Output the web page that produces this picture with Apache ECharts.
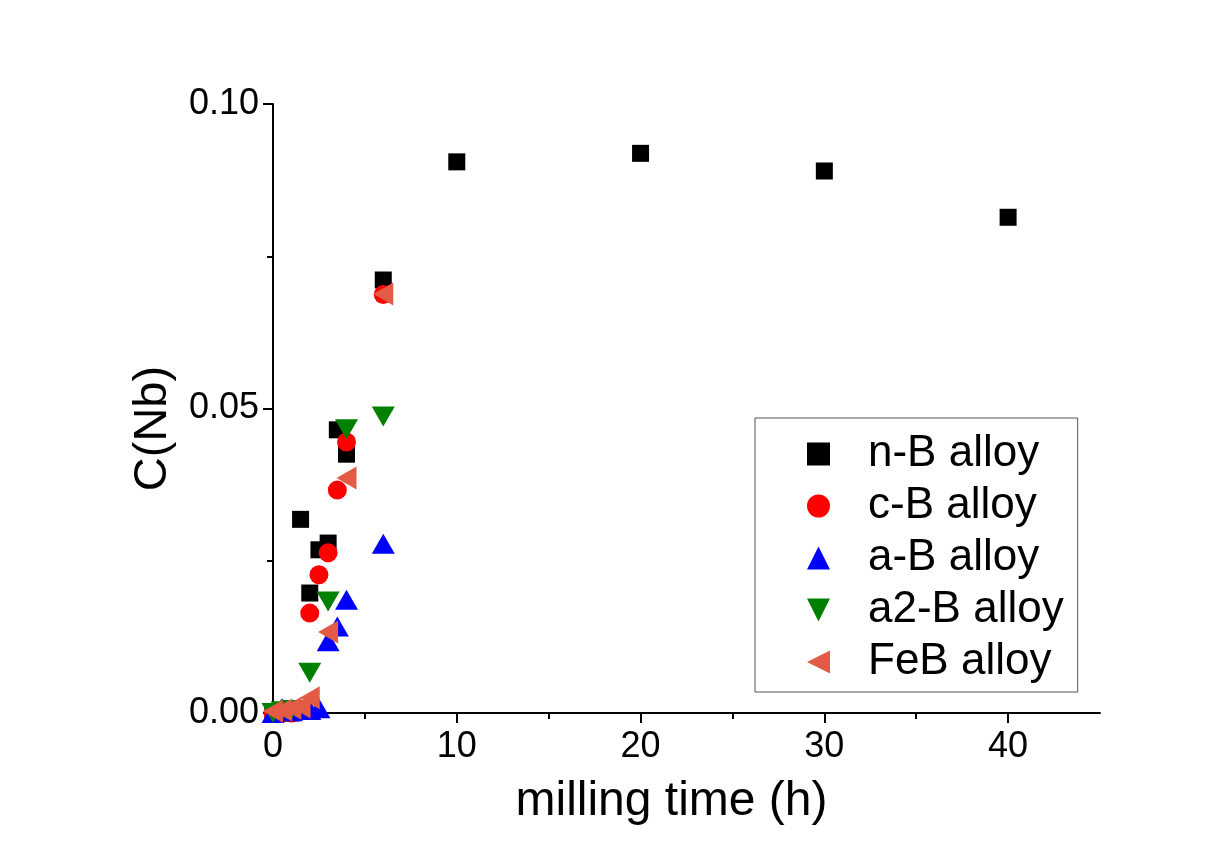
<!DOCTYPE html>
<html>
<head>
<meta charset="utf-8">
<script src="https://cdn.jsdelivr.net/npm/echarts@6/dist/echarts.min.js"></script>
<style>
html,body{margin:0;padding:0;background:#fff;}
#chart{width:1217px;height:853px;}
</style>
</head>
<body>
<div id="chart"></div>
<script>
// Data
const seriesNames = ['n-B alloy', 'c-B alloy', 'a-B alloy', 'a2-B alloy', 'FeB alloy'];

const nB_x = [0, 0.5, 1, 1.5, 2, 2.5, 3, 3.5, 4, 6, 10, 20, 30, 40];
const nB_y = [0, 0, 0, 0.0318, 0.0197, 0.0268, 0.0279, 0.0465, 0.0425, 0.0711, 0.0905, 0.0919, 0.0890, 0.0814];

const cB_x = [0, 0.5, 1, 2, 2.5, 3, 3.5, 4, 6];
const cB_y = [0, 0, 0, 0.0164, 0.0227, 0.0263, 0.0366, 0.0445, 0.0687];

const aB_x = [0, 0.5, 1, 1.5, 2, 2.5, 3, 3.5, 4, 6];
const aB_y = [0, 0.0008, 0.0003, 0.0005, 0.0005, 0.0008, 0.0118, 0.0142, 0.0186, 0.0278];

const a2B_x = [0, 0.5, 1, 2, 3, 4, 6];
const a2B_y = [0, 0.0003, 0.0005, 0.0066, 0.0183, 0.0466, 0.0487];

const FeB_x = [0, 0.5, 1, 1.5, 2, 3, 4, 6];
const FeB_y = [0.0003, 0.0005, 0.0008, 0.0010, 0.0025, 0.0133, 0.0386, 0.0688];

const xMajorTicks = [0, 10, 20, 30, 40];
const xMinorTicks = [5, 15, 25, 35];

const FONT = 'Liberation Sans, Arial, sans-serif';

function pairs(xs, ys) { return xs.map((x, i) => [x, ys[i]]); }

const chart = echarts.init(document.getElementById('chart'), null, {renderer: 'canvas'});

const UP = 'path://M1,0 L2,2 L0,2 Z';
const DOWN = 'path://M0,0 L2,0 L1,2 Z';
const LEFT = 'path://M2,0 L2,2 L0,1 Z';

const styles = [
  {symbol: 'rect', size: 17, color: '#000000'},
  {symbol: 'circle', size: 19, color: '#FF0000'},
  {symbol: UP, size: [23, 20], color: '#0000FF'},
  {symbol: DOWN, size: [23, 20], color: '#008000'},
  {symbol: LEFT, size: [20, 23], color: '#E35A45'}
];
const dataSets = [pairs(nB_x, nB_y), pairs(cB_x, cB_y), pairs(aB_x, aB_y), pairs(a2B_x, a2B_y), pairs(FeB_x, FeB_y)];

const option = {
  backgroundColor: '#ffffff',
  animation: false,
  grid: {left: 273, right: 117, top: 104, bottom: 140, containLabel: false},
  xAxis: [{
    type: 'value', min: 0, max: 45, interval: 10,
    name: 'milling time (h)', nameLocation: 'middle', nameGap: 65,
    nameTextStyle: {fontFamily: FONT, fontSize: 48, color: '#000', padding: [0, 30, 0, 0]},
    axisLine: {show: true, lineStyle: {color: '#000', width: 2}},
    axisTick: {show: true, inside: false, length: 10, lineStyle: {color: '#000', width: 2}, customValues: xMajorTicks},
    axisLabel: {show: true, fontFamily: FONT, fontSize: 36, color: '#000', margin: 16, customValues: xMajorTicks},
    splitLine: {show: false}
  }, {
    type: 'value', min: 0, max: 45, interval: 5, position: 'bottom',
    axisLine: {show: false},
    axisTick: {show: true, length: 6, lineStyle: {color: '#000', width: 2}, customValues: xMinorTicks},
    axisLabel: {show: false},
    splitLine: {show: false}
  }],
  yAxis: {
    type: 'value', min: 0, max: 0.1, interval: 0.05,
    name: 'C(Nb)', nameLocation: 'middle', nameGap: 96, nameRotate: 90,
    nameTextStyle: {fontFamily: FONT, fontSize: 47, color: '#000', padding: [0, 40, 0, 0]},
    axisLine: {show: true, lineStyle: {color: '#000', width: 2}},
    axisTick: {show: true, inside: false, length: 10, lineStyle: {color: '#000', width: 2}},
    minorTick: {show: true, splitNumber: 2, length: 6, lineStyle: {color: '#000', width: 2}},
    axisLabel: {fontFamily: FONT, fontSize: 36, color: '#000', margin: 14, formatter: v => v.toFixed(2)},
    splitLine: {show: false}
  },
  legend: {
    orient: 'vertical', left: 755, top: 418,
    padding: [14, 14, 8, 52],
    itemWidth: 23, itemHeight: 23, itemGap: 8,
    borderColor: '#555', borderWidth: 1,
    textStyle: {fontFamily: FONT, fontSize: 44, color: '#000', lineHeight: 40, padding: [0, 0, 0, 33]},
    data: seriesNames.map((n, i) => ({name: n, icon: styles[i].symbol === 'rect' ? 'path://M0,0 L1,0 L1,1 L0,1 Z' : styles[i].symbol}))
  },
  series: dataSets.map((d, i) => ({
    name: seriesNames[i], type: 'scatter', xAxisIndex: 0,
    symbol: styles[i].symbol, symbolSize: styles[i].size,
    itemStyle: {color: styles[i].color, opacity: 1},
    data: d
  }))
};
chart.setOption(option);
</script>
</body>
</html>
